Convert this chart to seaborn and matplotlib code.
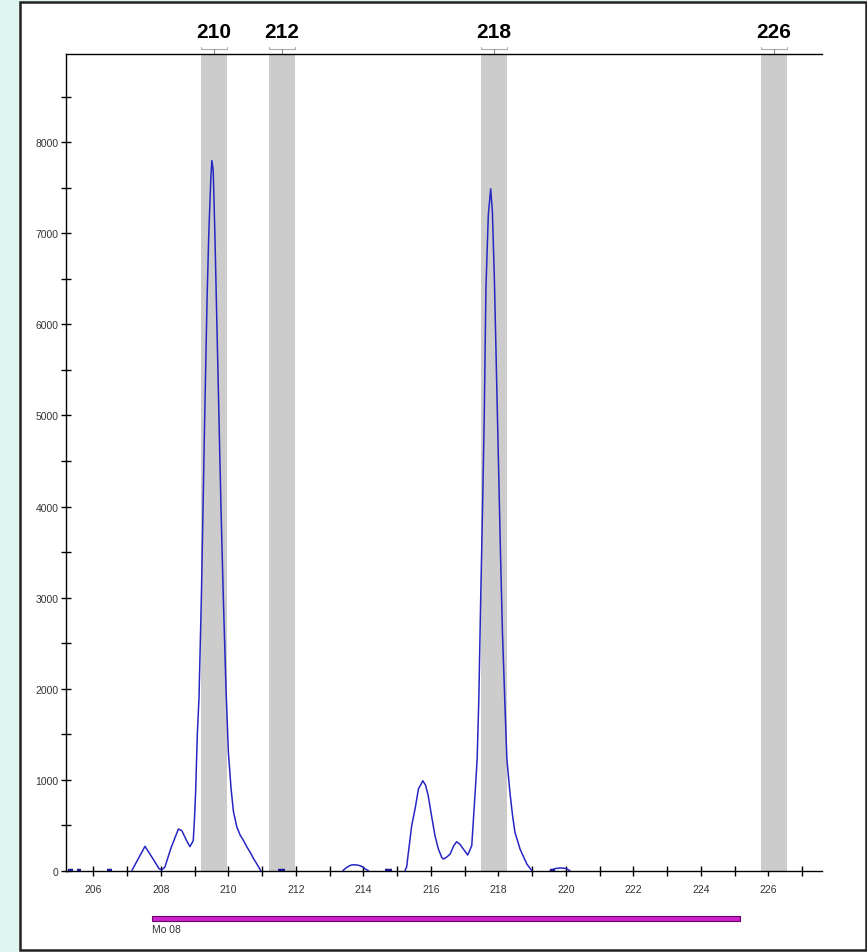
import numpy as np
import pandas as pd
import matplotlib
matplotlib.use("Agg")
import matplotlib.pyplot as plt
import matplotlib.transforms as mtransforms
from matplotlib.patches import Rectangle
from matplotlib.ticker import MultipleLocator
import seaborn as sns

# --- Data ---
seg_cluster1_x = [207.14, 207.3, 207.53, 207.75, 207.95, 208.03, 208.12, 208.3, 208.52, 208.62,
                  208.75, 208.86, 208.96, 209.0, 209.03, 209.08, 209.13, 209.2, 209.25, 209.3,
                  209.37, 209.42, 209.48, 209.51, 209.55, 209.6, 209.66, 209.72, 209.78, 209.85,
                  209.93, 210.0, 210.08, 210.15, 210.25, 210.35, 210.45, 210.55, 210.65, 210.75,
                  210.85, 210.96]
seg_cluster1_y = [0, 110, 268, 140, 20, 10, 40, 250, 458, 440,
                  340, 264, 330, 600, 864, 1500, 1900, 3000, 4000, 5000,
                  6300, 7000, 7600, 7800, 7700, 7000, 6000, 5000, 4000, 3000,
                  2000, 1300, 900, 650, 480, 390, 330, 260, 200, 130,
                  70, 0]

seg_bump214_x = [213.39, 213.5, 213.62, 213.72, 213.85, 213.95, 214.05, 214.15]
seg_bump214_y = [0, 35, 60, 66, 60, 48, 20, 0]

seg_cluster2_x = [215.23, 215.28, 215.43, 215.53, 215.63, 215.76, 215.84, 215.92, 216.02, 216.12,
                  216.22, 216.32, 216.37, 216.47, 216.57, 216.67, 216.76, 216.86, 216.96, 217.09,
                  217.21, 217.31, 217.37, 217.42, 217.47, 217.53, 217.58, 217.63, 217.7, 217.77,
                  217.82, 217.88, 217.94, 218.0, 218.06, 218.12, 218.19, 218.25, 218.34, 218.42,
                  218.49, 218.64, 218.84, 218.99]
seg_cluster2_y = [0, 40, 494, 678, 897, 988, 940, 824, 600, 384,
                  240, 147, 128, 150, 183, 270, 318, 290, 238, 172,
                  275, 861, 1227, 1900, 2900, 4000, 5000, 6400, 7200, 7490,
                  7250, 6500, 5500, 4500, 3500, 2600, 1850, 1227, 861, 600,
                  421, 238, 74, 0]

seg_bump220_x = [219.53, 219.7, 219.85, 220.0, 220.12]
seg_bump220_y = [0, 25, 30, 25, 0]

stub_x0 = [205.26, 205.51, 206.41, 211.47, 214.64, 219.53]
stub_x1 = [205.39, 205.63, 206.54, 211.67, 214.84, 219.68]

bin_labels = ["210", "212", "218", "226"]
bin_left = [209.19, 211.20, 217.47, 225.77]
bin_right = [209.95, 211.97, 218.25, 226.54]

dye_name = "Mo 08"
dye_start, dye_end = 207.74, 225.16

segments = [
    (seg_cluster1_x, seg_cluster1_y),
    (seg_bump214_x, seg_bump214_y),
    (seg_cluster2_x, seg_cluster2_y),
    (seg_bump220_x, seg_bump220_y),
]
rows = []
for i, (xs, ys) in enumerate(segments):
    for xv, yv in zip(xs, ys):
        rows.append({"size": xv, "rfu": yv, "seg": i})
trace = pd.DataFrame(rows)

stub_rows = []
for i, (a, b) in enumerate(zip(stub_x0, stub_x1)):
    stub_rows.append({"size": a, "rfu": 0, "seg": i})
    stub_rows.append({"size": b, "rfu": 0, "seg": i})
stubs = pd.DataFrame(stub_rows)

# --- Figure ---
sns.set_style("white")
plt.rcParams["font.family"] = ["Liberation Sans", "DejaVu Sans"]

W, H = 867, 953
fig = plt.figure(figsize=(W / 100, H / 100), dpi=100)
fig.patch.set_facecolor("#dff5f2")

# white panel with border, behind everything
fig.patches.append(Rectangle((20 / W, 1 - 951 / H), 846 / W, 948 / H,
                             transform=fig.transFigure, facecolor="white",
                             edgecolor="#222222", linewidth=1.8, zorder=-10))

ax = fig.add_axes([66 / W, 1 - 871.7 / H, (822 - 66) / W, (871.7 - 55) / H])
ax.set_zorder(2)
ax.set_facecolor("none")

for lo, hi in zip(bin_left, bin_right):
    ax.axvspan(lo, hi, color="#cccccc", lw=0, zorder=1)

sns.lineplot(data=trace, x="size", y="rfu", units="seg", estimator=None, sort=False,
             color="#2626c4", lw=1.1, ax=ax, zorder=3)
sns.lineplot(data=stubs, x="size", y="rfu", units="seg", estimator=None, sort=False,
             color="#1a1a90", lw=3.2, ax=ax, zorder=4, solid_capstyle="butt")

ax.set_xlim(205.19, 227.585)
ax.set_ylim(0, 8970)

ax.set_xticks(range(206, 228))
ax.set_xticklabels([str(v) if v % 2 == 0 else "" for v in range(206, 228)])
ax.yaxis.set_major_locator(MultipleLocator(1000))
ax.yaxis.set_minor_locator(MultipleLocator(500))
ax.tick_params(axis="x", which="both", bottom=True, top=False, direction="inout",
               length=7, width=1, color="black", labelsize=7.5,
               labelcolor="#333333", pad=6)
ax.tick_params(axis="y", which="both", left=True, right=False, direction="inout",
               length=7, width=1, color="black", labelsize=7.5,
               labelcolor="#333333", pad=2)
ax.set_xlabel("")
ax.set_ylabel("")

for side in ["left", "bottom", "top"]:
    ax.spines[side].set_visible(True)
    ax.spines[side].set_color("black")
    ax.spines[side].set_linewidth(1.0)
ax.spines["right"].set_visible(False)

# bin labels with brackets above the plot
tx = mtransforms.blended_transform_factory(ax.transData, ax.transAxes)
px = 1 / (871.7 - 55)
for lab, lo, hi in zip(bin_labels, bin_left, bin_right):
    mid = (lo + hi) / 2
    yb = 1 + 5 * px
    ax.plot([lo, lo, hi, hi], [yb + 2.5 * px, yb, yb, yb + 2.5 * px], color="#aaaaaa",
            lw=0.8, transform=tx, clip_on=False)
    ax.plot([mid, mid], [1, yb], color="#888888", lw=0.8, transform=tx, clip_on=False)
    ax.text(mid, 1 + 22 * px, lab, transform=tx, ha="center", va="center",
            fontsize=15, fontweight="bold", color="black")

# dye bar below the axis
tf = mtransforms.blended_transform_factory(ax.transData, fig.transFigure)
fig.patches.append(Rectangle((dye_start, 1 - 921.5 / H), dye_end - dye_start, 4.5 / H,
                             transform=tf, facecolor="#cc22cc", edgecolor="#6a006a",
                             linewidth=0.8, zorder=5))
fig.text(dye_start, 1 - 930 / H, dye_name, transform=tf, ha="left", va="center",
         fontsize=7.5, color="#333333")

fig.savefig("out.png", dpi=100, facecolor=fig.get_facecolor())
